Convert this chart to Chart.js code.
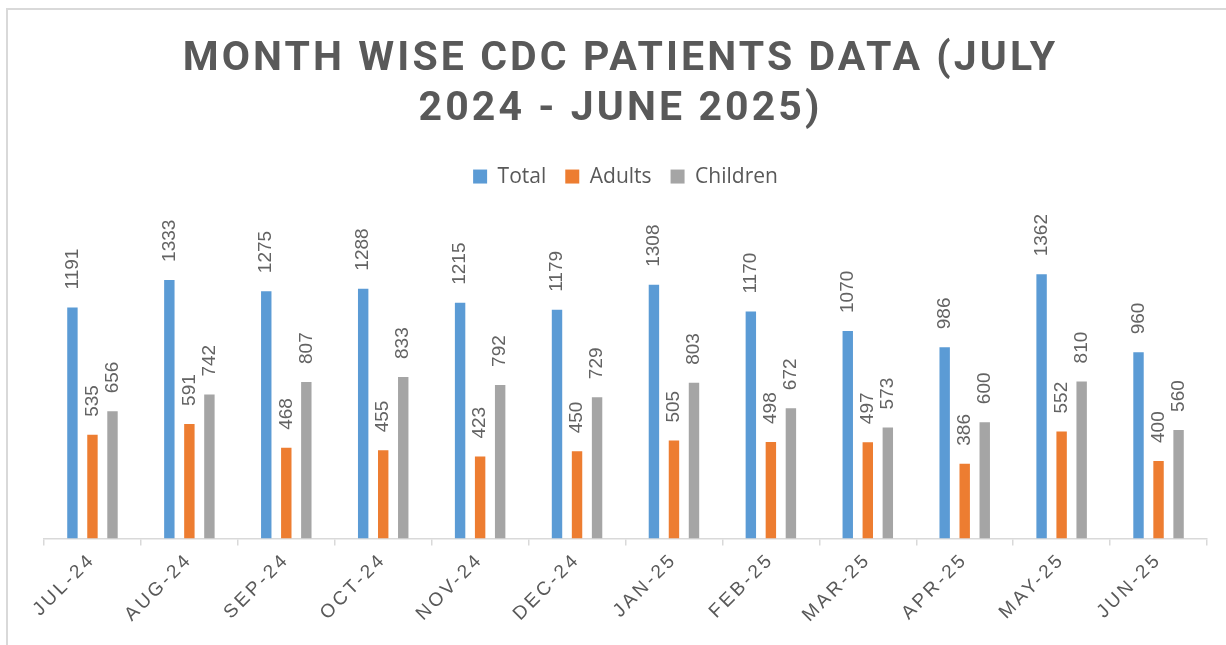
<!DOCTYPE html>
<html>
<head>
<meta charset="utf-8">
<script src="https://cdn.jsdelivr.net/npm/chart.js@4.4.0/dist/chart.umd.min.js"></script>
<style>
  html, body { margin: 0; padding: 0; background: #fff; overflow: hidden; }
  #frame { position: absolute; left: 6px; top: 8px; width: 1240px; height: 660px; border: 2px solid #d9d9d9; }
  #c { position: absolute; left: 0; top: 0; }
</style>
</head>
<body>
<div id="frame"></div>
<canvas id="c" width="1226" height="645"></canvas>
<script>
const chartTitle = ['MONTH WISE CDC PATIENTS DATA (JULY', '2024 - JUNE 2025)'];
const months = ['JUL-24', 'AUG-24', 'SEP-24', 'OCT-24', 'NOV-24', 'DEC-24',
                'JAN-25', 'FEB-25', 'MAR-25', 'APR-25', 'MAY-25', 'JUN-25'];
const totalPatients = [1191, 1333, 1275, 1288, 1215, 1179, 1308, 1170, 1070, 986, 1362, 960];
const adultPatients = [535, 591, 468, 455, 423, 450, 505, 498, 497, 386, 552, 400];
const childPatients = [656, 742, 807, 833, 792, 729, 803, 672, 573, 600, 810, 560];

const textGray = '#595959';

// value labels, turned upright above each bar
const barLabels = {
  id: 'barLabels',
  afterDatasetsDraw(chart) {
    const ctx = chart.ctx;
    ctx.save();
    ctx.font = '19px "Liberation Sans"';
    ctx.fillStyle = '#636363';
    ctx.textAlign = 'left';
    ctx.textBaseline = 'middle';
    chart.data.datasets.forEach((ds, i) => {
      chart.getDatasetMeta(i).data.forEach((bar, j) => {
        ctx.save();
        ctx.translate(bar.x, bar.y - 18);
        ctx.rotate(-Math.PI / 2);
        ctx.fillText(ds.data[j], 0, 0);
        ctx.restore();
      });
    });
    ctx.restore();
  }
};

const chart = new Chart(document.getElementById('c'), {
  type: 'bar',
  data: {
    labels: months,
    datasets: [
      { label: 'Total', data: totalPatients, backgroundColor: '#5B9BD5' },
      { label: 'Adults', data: adultPatients, backgroundColor: '#ED7D31' },
      { label: 'Children', data: childPatients, backgroundColor: '#A5A5A5' }
    ]
  },
  options: {
    responsive: false,
    animation: false,
    categoryPercentage: 0.62,
    barPercentage: 0.52,
    layout: { padding: { left: 44, right: 19, top: 0, bottom: 8 } },
    plugins: {
      title: {
        display: true,
        text: chartTitle,
        color: textGray,
        font: { family: 'Roboto', size: 41, weight: 'bold', lineHeight: 1.22 },
        padding: { top: 35, bottom: 12 }
      },
      legend: {
        labels: {
          color: textGray,
          font: { family: '"Open Sans"', size: 21 },
          boxWidth: 14,
          boxHeight: 14,
          padding: 19
        }
      },
      tooltip: { enabled: false }
    },
    scales: {
      x: {
        grid: { drawOnChartArea: false, color: '#d9d9d9', lineWidth: 1.5, tickLength: 7 },
        border: { color: '#d9d9d9', width: 1.5 },
        ticks: {
          color: textGray,
          font: { family: '"Liberation Sans"', size: 19 },
          autoSkip: false,
          maxRotation: 45,
          minRotation: 45
        },
        // spaced labels are longer than Chart.js measures them
        afterFit(scale) { scale.height += 20; }
      },
      y: { display: false, min: 0, max: 1760 }
    }
  },
  plugins: [barLabels]
});

// Chart.js has no letter spacing option, so wrap the title and x labels
function spaced(fn, spacing, dx) {
  return function (...args) {
    const ctx = this.ctx;
    ctx.save();
    ctx.letterSpacing = spacing;
    if (dx) ctx.translate(dx, 0);
    fn.apply(this, args);
    ctx.restore();
  };
}
chart.titleBlock.draw = spaced(chart.titleBlock.draw, '3.1px', -5);
chart.scales.x.drawLabels = spaced(chart.scales.x.drawLabels, '3px');
chart.draw();
</script>
</body>
</html>
